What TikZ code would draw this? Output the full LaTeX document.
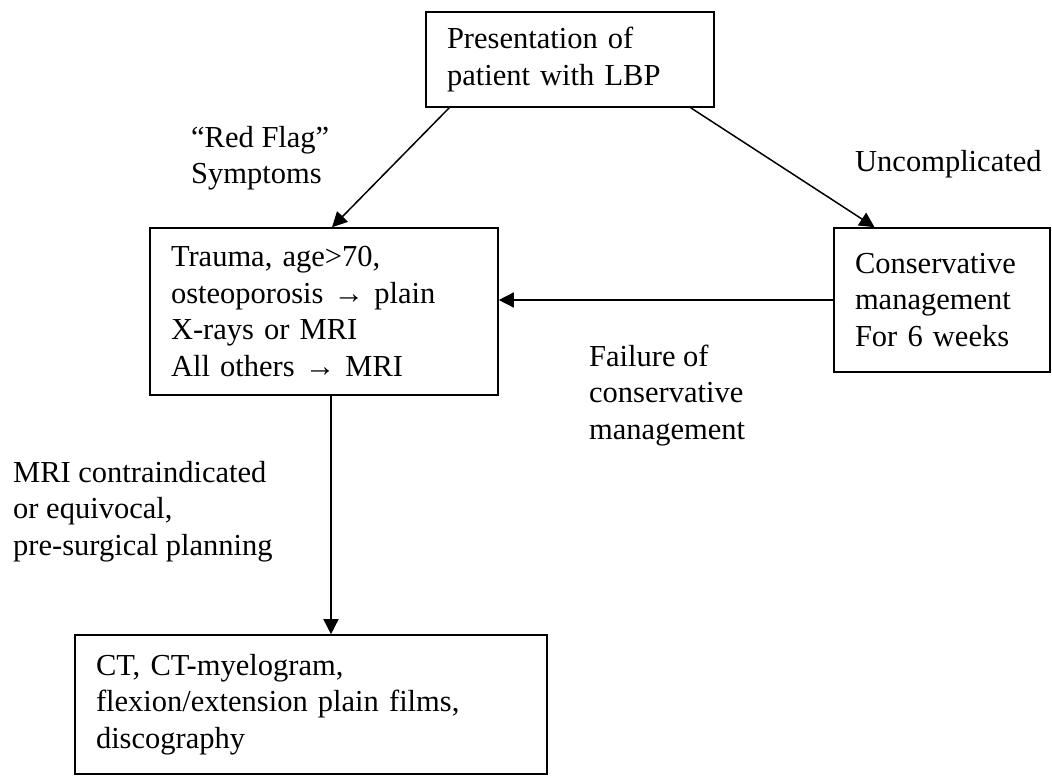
\documentclass[tikz,border=0pt]{standalone}
\usepackage{fontspec}
\setmainfont{Liberation Serif}
\usetikzlibrary{arrows.meta,calc}
\newcommand\firstrule{\rule{0pt}{25pt}}
\begin{document}
\begin{tikzpicture}[x=1pt,y=-1pt,
  every node/.style={font=\fontsize{30.5}{36.5}\selectfont},
  box/.style={draw,line width=1.6pt,align=left,inner xsep=21pt,inner ysep=0pt,anchor=center},
  lbl/.style={align=left,inner sep=0pt,anchor=north west},
  arr/.style={line width=1.5pt,-{Triangle[length=15pt,width=15pt]}}]
\useasboundingbox (0,0) rectangle (1052,776);
% boxes
\node[box,text width=246pt,minimum height=95pt] (top) at (570,59.5) {Presentation of\\patient with LBP};
\node[box,text width=306pt,minimum height=167pt] (left) at (324,311.5) {Trauma, age>70,\\osteoporosis → plain\\X-rays or MRI\\All others → MRI};
\node[box,text width=174pt,minimum height=144pt] (right) at (942,300) {Conservative\\management\\For 6 weeks};
\node[box,text width=430pt,minimum height=139pt] (bottom) at (311,704.5) {CT, CT-myelogram,\\flexion/extension plain films,\\discography};
% labels
\node[lbl] (redflag) at (191,122) {\firstrule“Red Flag”\\Symptoms};
\node[lbl] (uncomp) at (855,146) {\firstrule Uncomplicated};
\node[lbl] (failure) at (589,341) {\firstrule Failure of\\conservative\\management};
\node[lbl] (mri) at (13,457) {\firstrule MRI contraindicated\\or equivocal,\\pre-surgical planning};
% connectors
\draw[arr] ($(top.south west)!0.083!(top.south east)$) -- ($(left.north west)!0.523!(left.north east)$);
\draw[arr] ($(top.south west)!0.917!(top.south east)$) -- ($(right.north west)!0.19!(right.north east)$);
\draw[arr] (right.west) -- (right.west -| left.east);
\coordinate (vs) at ($(left.south west)!0.52!(left.south east)$);
\draw[arr] (vs) -- (vs |- bottom.north);
\end{tikzpicture}
\end{document}
